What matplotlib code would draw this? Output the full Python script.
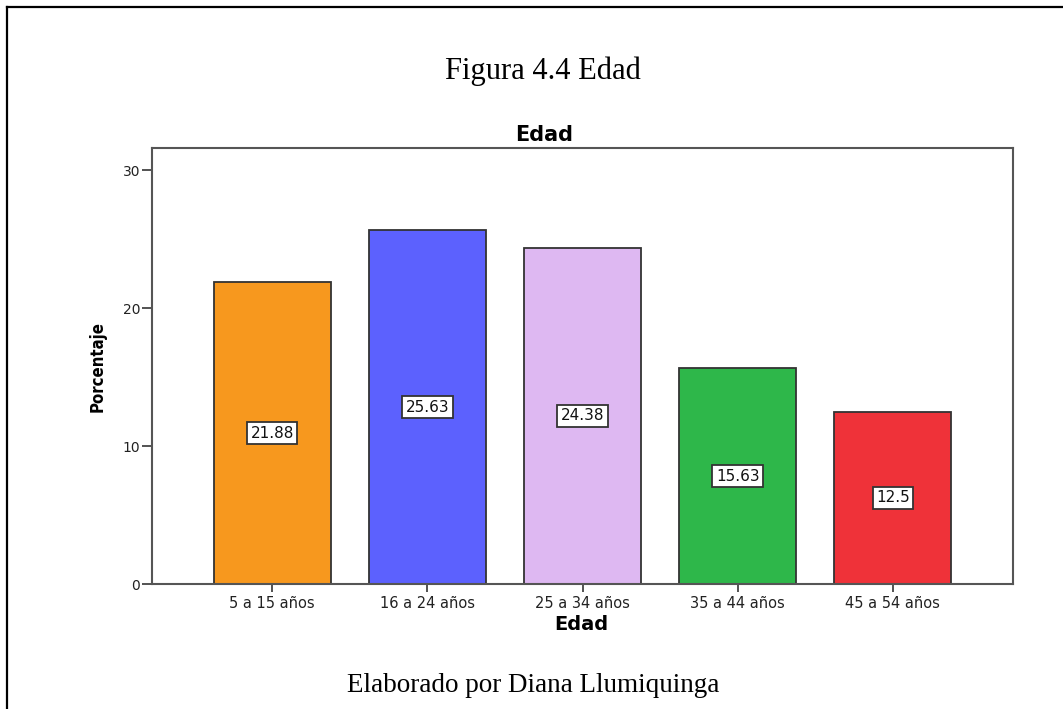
import matplotlib
matplotlib.use("Agg")
import matplotlib.pyplot as plt
from matplotlib.lines import Line2D

# Data
categories = ["5 a 15 años", "16 a 24 años", "25 a 34 años", "35 a 44 años", "45 a 54 años"]
percentages = [21.88, 25.63, 24.38, 15.63, 12.5]
value_labels = ["21.88", "25.63", "24.38", "15.63", "12.5"]
bar_colors = ["#F7981E", "#5C61FE", "#DEB8F2", "#2EB74A", "#EF3239"]
y_ticks = [0, 10, 20, 30]

W, H = 1063, 709
fig = plt.figure(figsize=(W / 100, H / 100), dpi=100)
fig.patch.set_facecolor("white")

def fx(px):
    return px / W

def fy(py):
    return 1 - py / H

# Outer frame of the figure box (left and top edges)
fig.add_artist(Line2D([fx(7), fx(7)], [fy(7), 0], transform=fig.transFigure,
                      color="black", lw=1.6))
fig.add_artist(Line2D([fx(7), 1], [fy(7), fy(7)], transform=fig.transFigure,
                      color="black", lw=1.6))

# Plot area
left, right, top, bottom = 152, 1013, 148, 584
ax = fig.add_axes([fx(left), fy(bottom), fx(right - left), (bottom - top) / H])

x = list(range(len(categories)))
bars = ax.bar(x, percentages, width=0.755, color=bar_colors,
              edgecolor="#333333", linewidth=1.3, zorder=2)

for xi, val, lab in zip(x, percentages, value_labels):
    ax.text(xi, val / 2, lab, ha="center", va="center", fontsize=11,
            family="DejaVu Sans", color="#111111", zorder=3,
            bbox=dict(boxstyle="square,pad=0.22", facecolor="white",
                      edgecolor="#333333", linewidth=1.3))

ax.set_xlim(-0.775, 4.775)
ax.set_ylim(0, 31.6)
ax.set_yticks(y_ticks)
ax.set_yticklabels([str(t) for t in y_ticks])
ax.set_xticks(x)
ax.set_xticklabels(categories)

for sp in ax.spines.values():
    sp.set_color("#555555")
    sp.set_linewidth(1.5)

ax.tick_params(axis="y", direction="out", length=7.5, width=1.3,
               color="#444444", pad=1, labelsize=10, labelcolor="#222222")
ax.tick_params(axis="x", direction="out", length=5.5, width=1.3,
               color="#444444", pad=3, labelsize=10.5, labelcolor="#222222")
for lbl in ax.get_xticklabels() + ax.get_yticklabels():
    lbl.set_family("DejaVu Sans")

# Chart title and axis labels
fig.text(fx(544), fy(141), "Edad", ha="center", va="baseline",
         fontsize=15, fontweight="bold", family="DejaVu Sans")
fig.text(fx(581), fy(630), "Edad", ha="center", va="baseline",
         fontsize=14, fontweight="bold", family="DejaVu Sans")
fig.text(fx(98), fy(366), "Porcentaje", ha="center", va="center", rotation=90,
         fontsize=12, fontweight="bold", fontstretch="condensed",
         family="DejaVu Sans")

# Figure caption above and credit below
fig.text(fx(543), fy(79), "Figura 4.4 Edad", ha="center", va="baseline",
         fontsize=22, family=["Liberation Serif", "DejaVu Serif"])
fig.text(fx(533), fy(692), "Elaborado por Diana Llumiquinga", ha="center",
         va="baseline", fontsize=19.5, family=["Liberation Serif", "DejaVu Serif"])

fig.savefig("out.png", dpi=100, facecolor="white")
